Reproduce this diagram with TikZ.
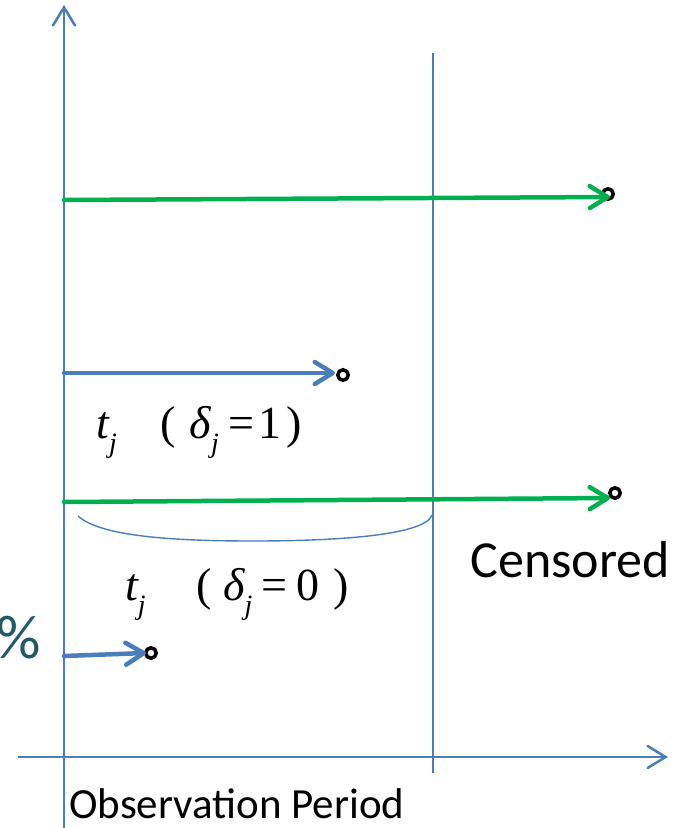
\documentclass[tikz,border=0pt]{standalone}
\usepackage{fontspec}
\setmainfont{Carlito}
\newfontfamily\timesfont{Liberation Serif}
\usetikzlibrary{arrows.meta,positioning}
\definecolor{axisblue}{HTML}{4A7EBB}
\definecolor{subjgreen}{HTML}{00B050}
\definecolor{pctteal}{HTML}{215968}
\newcommand{\lowsub}[1]{\raisebox{-0.32em}{\fontsize{28}{30}\selectfont\itshape #1}}
\tikzset{
  axisline/.style={
    draw=axisblue, line width=2.5pt,
    -{Straight Barb[length=18pt, width=22pt, line cap=round]}
  },
  periodline/.style={draw=axisblue, line width=1.6pt},
  subjarrow/.style={
    draw=#1, line width=4.5pt, line cap=round,
    -{Straight Barb[length=18pt, width=22pt, line cap=round, line join=round]}
  },
  subjarrow/.default=axisblue,
  endmark/.style={circle, draw=black, line width=3.5pt,
    inner sep=0pt, minimum size=10.5pt},
  textlabel/.style={font=\fontsize{44}{50}\selectfont, inner sep=0pt},
  mathlabel/.style={font=\timesfont\fontsize{46}{52}\selectfont, inner sep=0pt, anchor=base},
}

\begin{document}
\begin{tikzpicture}[x=1pt, y=-1pt]
\useasboundingbox (0,0) rectangle (683,828);
% axes and end of observation
\coordinate (ybot) at (64,828);
\coordinate (ytop) at (64,5);
\coordinate (xleft) at (18,757);
\coordinate (xright) at (668,757);
\coordinate (obstop) at (433,53);
\coordinate (obsbot) at (433,773);
\draw[axisline] (ybot) -- (ytop);
\draw[axisline] (xleft) -- (xright);
\draw[periodline] (obstop) -- (obsbot);
% subjects
\coordinate (s1) at (64,200);
\coordinate (e1) at (610,197);
\coordinate (s2) at (64,373);
\coordinate (e2) at (335,373);
\coordinate (s3) at (64,502);
\coordinate (e3) at (610,498);
\coordinate (s4) at (64,656);
\coordinate (e4) at (146,653);
\node[endmark] (m1) at (608,194) {};
\node[endmark] (m2) at (343,375) {};
\node[endmark] (m3) at (615,493) {};
\node[endmark] (m4) at (151,653) {};
\draw[subjarrow=subjgreen] (s1) -- (e1);
\draw[subjarrow] (s2) -- (e2);
\draw[subjarrow=subjgreen] (s3) -- (e3);
\draw[subjarrow] (s4) -- (e4);
% brace under the censored subject
\coordinate (bl) at (78,516);
\coordinate (br) at (432,515);
\draw[periodline, line width=1.4pt] (bl) .. controls (100,536) and (170,541) .. (253,541)
  .. controls (340,541) and (425,535) .. (br);
% labels
\node[mathlabel] (t1) at (199,438)
  {\itshape t\lowsub{j}\hspace{0.95em}\upshape(\hspace{0.3em}\itshape δ\lowsub{j}\hspace{0.2em}\upshape=\hspace{0.1em}1\hspace{0.1em})};
\node[mathlabel] (t0) at (237,600)
  {\itshape t\lowsub{j}\hspace{1.1em}\upshape(\hspace{0.25em}\itshape δ\lowsub{j}\hspace{0.2em}\upshape=\hspace{0.2em}0\hspace{0.3em})};
\node[textlabel, anchor=east, font=\fontsize{52}{58}\selectfont] (cens) at (670,560) {Censored};
\node[textlabel, anchor=east, text=pctteal, font=\fontsize{62}{68}\selectfont] (pct) at (41,638) {\%};
\node[textlabel, anchor=base west, font=\fontsize{43}{48}\selectfont] (obs) at (69,818) {Observation Period};
\end{tikzpicture}
\end{document}
